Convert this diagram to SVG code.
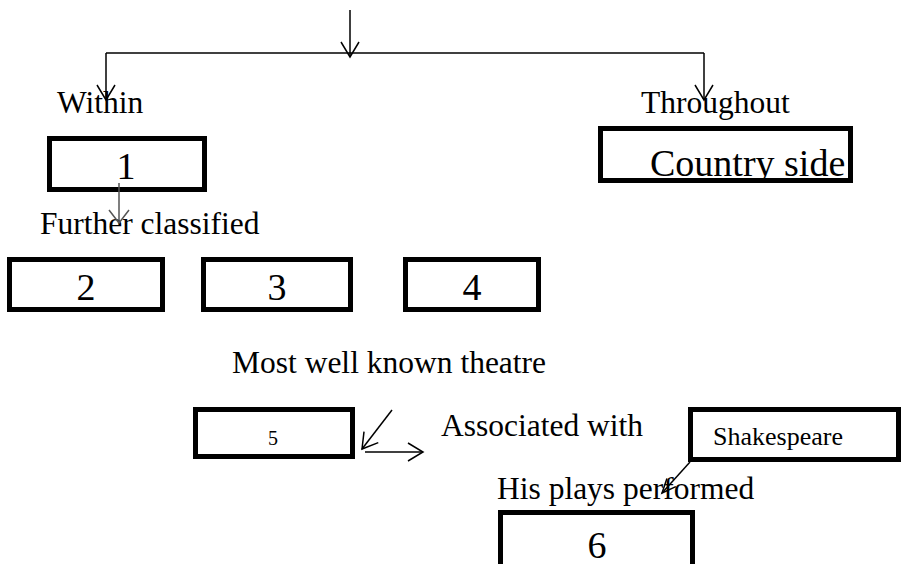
<svg xmlns="http://www.w3.org/2000/svg" width="901" height="564" viewBox="0 0 901 564">
<style>
text{font-family:"Liberation Serif","Times New Roman",serif;fill:#000}
.lbl{font-size:31.5px}
.num{font-size:38px;text-anchor:middle}
.box{fill:#fff;stroke:#000;stroke-width:5}
.ln{fill:none;stroke:#000;stroke-width:1.5}
</style>
<defs>
<marker id="ah" markerUnits="userSpaceOnUse" markerWidth="40" markerHeight="40" viewBox="-20 -20 40 40" refX="0" refY="0" orient="auto" overflow="visible">
<path d="M-15,-9 L0,0 L-15,9" fill="none" stroke="#000" stroke-width="1.5"/>
</marker>
<marker id="ahs" markerUnits="userSpaceOnUse" markerWidth="40" markerHeight="40" viewBox="-20 -20 40 40" refX="0" refY="0" orient="auto" overflow="visible">
<path d="M-14,-6 L0,0 L-14,6" fill="none" stroke="#000" stroke-width="1.5"/>
</marker>
<marker id="ahg" markerUnits="userSpaceOnUse" markerWidth="40" markerHeight="40" viewBox="-20 -20 40 40" refX="0" refY="0" orient="auto" overflow="visible">
<path d="M-13,-10 L0,0 L-13,10" fill="none" stroke="#555" stroke-width="1.5"/>
</marker>
<clipPath id="csclip"><rect x="603" y="131" width="245" height="47"/></clipPath>
</defs>

<g id="label-within"><text class="lbl" x="57" y="113">Within</text></g>
<g id="label-throughout"><text class="lbl" x="641" y="113">Throughout</text></g>

<g id="node-1"><rect class="box" x="49.5" y="138.5" width="155" height="51"/><text class="num" x="126" y="179">1</text></g>
<g id="node-country"><rect class="box" x="600.5" y="128.5" width="250" height="52"/><text x="650" y="176" font-size="38" clip-path="url(#csclip)">Country side</text></g>

<g id="label-further"><text class="lbl" x="40" y="234">Further classified</text></g>

<g id="node-2"><rect class="box" x="9.5" y="259.5" width="153" height="50"/><text class="num" x="86" y="300" font-size="37">2</text></g>
<g id="node-3"><rect class="box" x="203.5" y="259.5" width="147" height="50"/><text class="num" x="277" y="300" font-size="37">3</text></g>
<g id="node-4"><rect class="box" x="405.5" y="259.5" width="133" height="50"/><text class="num" x="472" y="300" font-size="37">4</text></g>

<g id="label-most"><text class="lbl" x="232" y="373">Most well known theatre</text></g>

<g id="node-5"><rect class="box" x="195.5" y="409.5" width="157" height="47"/><text x="273" y="445" font-size="20" text-anchor="middle">5</text></g>
<g id="label-associated"><text class="lbl" x="441" y="436">Associated with</text></g>
<g id="node-shakespeare"><rect class="box" x="690.5" y="409.5" width="208" height="50"/><text x="713" y="445" font-size="26">Shakespeare</text></g>

<g id="label-plays"><text class="lbl" x="497" y="499">His plays performed</text></g>
<g id="node-6"><rect class="box" x="500.5" y="512.5" width="192" height="70"/><text class="num" x="597" y="558">6</text></g>

<g id="connectors">
<line class="ln" x1="350" y1="10" x2="350" y2="57" marker-end="url(#ah)"/>
<line class="ln" x1="106" y1="53" x2="704" y2="53"/>
<line class="ln" x1="106" y1="53" x2="106" y2="100" marker-end="url(#ah)"/>
<line class="ln" x1="704" y1="53" x2="704" y2="100" marker-end="url(#ah)"/>
<line x1="119" y1="183" x2="119" y2="223" fill="none" stroke="#555" stroke-width="1.5" marker-end="url(#ahg)"/>
<line class="ln" x1="392" y1="410" x2="362" y2="449" marker-end="url(#ah)"/>
<line class="ln" x1="365" y1="452" x2="423" y2="452" marker-end="url(#ah)"/>
<line class="ln" x1="690" y1="462" x2="662" y2="493" marker-end="url(#ahs)"/>
</g>
</svg>
